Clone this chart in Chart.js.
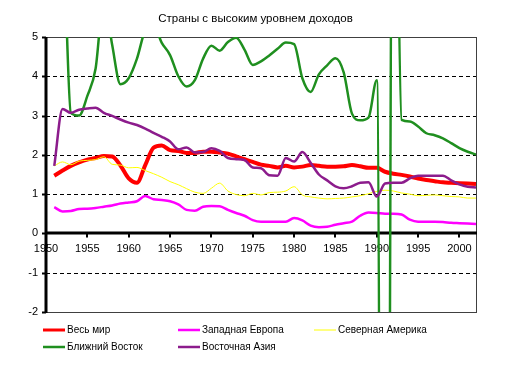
<!DOCTYPE html>
<html lang="ru">
<head>
<meta charset="UTF-8">
<title>Страны с высоким уровнем доходов</title>
<style>
  html, body { margin: 0; padding: 0; background: #fff; }
  #wrap { width: 511px; height: 366px; }
</style>
</head>
<body>
<div id="wrap"><canvas id="chart" width="511" height="366"></canvas></div>
<script src="https://cdn.jsdelivr.net/npm/chart.js"></script>
<script>
// 1951 .. 2002
const years = [
  1951, 1952, 1953, 1954, 1955, 1956, 1957, 1958, 1959, 1960,
  1961, 1962, 1963, 1964, 1965, 1966, 1967, 1968, 1969, 1970,
  1971, 1972, 1973, 1974, 1975, 1976, 1977, 1978, 1979, 1980,
  1981, 1982, 1983, 1984, 1985, 1986, 1987, 1988, 1989, 1990,
  1991, 1992, 1993, 1994, 1995, 1996, 1997, 1998, 1999, 2000,
  2001, 2002
];
const world = [
  1.47, 1.60, 1.72, 1.81, 1.88, 1.92, 1.97, 1.96, 1.73, 1.40,
  1.29, 1.74, 2.18, 2.24, 2.12, 2.10, 2.05, 2.05, 2.08, 2.08,
  2.06, 2.03, 1.96, 1.89, 1.82, 1.75, 1.72, 1.68, 1.72, 1.68,
  1.70, 1.74, 1.72, 1.70, 1.70, 1.71, 1.74, 1.71, 1.67, 1.67,
  1.57, 1.52, 1.49, 1.45, 1.40, 1.36, 1.33, 1.30, 1.29, 1.28,
  1.27, 1.26
];
const westEurope = [
  0.67, 0.56, 0.57, 0.62, 0.63, 0.65, 0.68, 0.71, 0.76, 0.79,
  0.82, 0.95, 0.87, 0.85, 0.82, 0.74, 0.60, 0.58, 0.68, 0.70,
  0.69, 0.60, 0.52, 0.45, 0.34, 0.30, 0.30, 0.30, 0.30, 0.39,
  0.33, 0.20, 0.16, 0.17, 0.22, 0.26, 0.30, 0.45, 0.53, 0.52,
  0.50, 0.50, 0.48, 0.35, 0.30, 0.30, 0.30, 0.29, 0.27, 0.26,
  0.25, 0.24
];
const northAmerica = [
  1.72, 1.82, 1.75, 1.84, 1.86, 1.88, 1.95, 1.76, 1.74, 1.67,
  1.68, 1.60, 1.52, 1.43, 1.32, 1.24, 1.14, 1.05, 1.02, 1.15,
  1.28, 1.08, 0.99, 0.96, 1.02, 0.98, 1.04, 1.05, 1.08, 1.19,
  0.98, 0.93, 0.90, 0.88, 0.89, 0.90, 0.93, 0.96, 1.01, 1.07,
  1.10, 1.08, 1.03, 1.00, 0.96, 0.97, 0.98, 0.96, 0.94, 0.93,
  0.90, 0.90
];
const middleEast = [
  6.5, 7.5, 3.07, 3.0, 3.5, 4.2, 6.0, 4.8, 3.8, 3.95,
  4.45, 5.17, 5.3, 4.85, 4.54, 4.0, 3.74, 3.9, 4.45, 4.78,
  4.65, 4.87, 4.98, 4.68, 4.29, 4.38, 4.53, 4.7, 4.86, 4.82,
  3.95, 3.6, 4.05, 4.28, 4.46, 4.1, 3.05, 2.88, 2.95, 3.9,
  -31, 14, 2.89, 2.85, 2.72, 2.55, 2.5, 2.42, 2.3, 2.17,
  2.08, 2.01
];
const eastAsia = [
  1.72, 3.17, 3.07, 3.15, 3.18, 3.20, 3.07, 2.99, 2.90, 2.82,
  2.76, 2.67, 2.56, 2.46, 2.34, 2.14, 2.19, 2.06, 2.07, 2.17,
  2.10, 1.92, 1.89, 1.87, 1.68, 1.66, 1.48, 1.47, 1.92, 1.83,
  2.07, 1.80, 1.50, 1.35, 1.20, 1.15, 1.20, 1.29, 1.30, 0.94,
  1.27, 1.29, 1.29, 1.40, 1.47, 1.47, 1.47, 1.47, 1.35, 1.25,
  1.19, 1.17
];

const seriesNames = ['Весь мир', 'Западная Европа', 'Северная Америка', 'Ближний Восток', 'Восточная Азия'];
const seriesValues = [world, westEurope, northAmerica, middleEast, eastAsia];
const seriesColors = ['#ff0000', '#ff00ff', '#ffff00', '#1f8f1f', '#8c1c8c'];
const seriesWidths = [4, 2.5, 1, 2.5, 2.5];

const yTicks = [-2, -1, 0, 1, 2, 3, 4, 5];
const xTicks = [1950, 1955, 1960, 1965, 1970, 1975, 1980, 1985, 1990, 1995, 2000];
const chartTitle = 'Страны с высоким уровнем доходов';

Chart.defaults.font.family = "'Liberation Sans', Arial, sans-serif";
Chart.defaults.color = '#000';

// legend slots (col x, row y)
const legendCols = [43, 178, 314];
const legendRows = [330, 347];

const framePlugin = {
  id: 'frame',
  beforeDatasetsDraw(chart) {
    const { ctx, chartArea: a, scales: { x, y } } = chart;
    ctx.save();
    // dashed grid
    ctx.strokeStyle = '#000';
    ctx.lineWidth = 1;
    ctx.setLineDash([4, 3]);
    yTicks.forEach(v => {
      if (v === 0 || v === yTicks[0] || v === yTicks[yTicks.length - 1]) return;
      const py = Math.round(y.getPixelForValue(v)) + 0.5;
      ctx.beginPath();
      ctx.moveTo(a.left, py);
      ctx.lineTo(a.right, py);
      ctx.stroke();
    });
    ctx.setLineDash([]);
    // plot border
    ctx.strokeStyle = '#404040';
    ctx.strokeRect(Math.round(a.left) + 0.5, Math.round(a.top) + 0.5,
      Math.round(a.width), Math.round(a.height));
    // y tick marks
    ctx.strokeStyle = '#000';
    ctx.lineWidth = 2;
    yTicks.forEach(v => {
      const py = Math.round(y.getPixelForValue(v)) + 0.5;
      ctx.beginPath();
      ctx.moveTo(a.left - 4, py);
      ctx.lineTo(a.left, py);
      ctx.stroke();
    });
    // x tick marks below zero line
    const zy = y.getPixelForValue(0);
    xTicks.forEach(v => {
      const px = Math.round(x.getPixelForValue(v));
      ctx.beginPath();
      ctx.moveTo(px, zy);
      ctx.lineTo(px, zy + 4);
      ctx.stroke();
    });
    // zero line and left axis
    ctx.lineWidth = 3;
    ctx.beginPath();
    ctx.moveTo(a.left, Math.round(zy));
    ctx.lineTo(a.right + 1, Math.round(zy));
    ctx.stroke();
    ctx.beginPath();
    ctx.moveTo(Math.round(a.left), a.top);
    ctx.lineTo(Math.round(a.left), a.bottom + 1);
    ctx.stroke();
    ctx.restore();
  },
  afterDraw(chart) {
    const { ctx } = chart;
    ctx.save();
    ctx.font = "10px 'Liberation Sans', Arial, sans-serif";
    ctx.textBaseline = 'middle';
    ctx.fillStyle = '#000';
    chart.data.datasets.forEach((ds, i) => {
      const lx = legendCols[i % 3];
      const ly = legendRows[Math.floor(i / 3)];
      ctx.strokeStyle = ds.borderColor;
      ctx.lineWidth = Math.min(ds.borderWidth, 3);
      ctx.beginPath();
      ctx.moveTo(lx, ly);
      ctx.lineTo(lx + 22, ly);
      ctx.stroke();
      ctx.fillText(ds.label, lx + 24, ly + 0.5);
    });
    ctx.restore();
  }
};

const datasets = seriesNames.map((name, i) => ({
  label: name,
  data: years.map((yr, j) => ({ x: yr, y: seriesValues[i][j] })),
  borderColor: seriesColors[i],
  backgroundColor: seriesColors[i],
  borderWidth: seriesWidths[i],
  pointRadius: 0,
  cubicInterpolationMode: 'monotone',
  clip: 0,
  order: seriesNames.length - i
}));

new Chart(document.getElementById('chart'), {
  type: 'line',
  data: { datasets },
  options: {
    responsive: false,
    animation: false,
    layout: { padding: { left: 0, right: 0, top: 0, bottom: 54 } },
    scales: {
      x: {
        type: 'linear',
        min: 1950,
        max: 2002,
        position: { y: 0 },
        grid: { display: false, drawTicks: false },
        border: { display: false },
        ticks: {
          stepSize: 5,
          includeBounds: false,
          padding: 9,
          font: { size: 11 },
          callback: v => String(v)
        }
      },
      y: {
        min: -2,
        max: 5,
        grid: { display: false, drawTicks: false },
        border: { display: false },
        ticks: { stepSize: 1, padding: 8, font: { size: 11 } },
        afterFit(s) { s.width = 46; }
      },
      // empty right-hand spacer so the title stays centred on the full canvas
      yRight: {
        position: 'right',
        min: 0,
        max: 1,
        grid: { display: false, drawTicks: false },
        border: { display: false },
        ticks: { display: false },
        afterFit(s) { s.width = 35; }
      }
    },
    plugins: {
      legend: { display: false },
      tooltip: { enabled: false },
      title: {
        display: true,
        text: chartTitle,
        color: '#000',
        font: { size: 11.5, weight: 'normal' },
        padding: { top: 12, bottom: 11.2 }
      }
    }
  },
  plugins: [framePlugin]
});
</script>
</body>
</html>
